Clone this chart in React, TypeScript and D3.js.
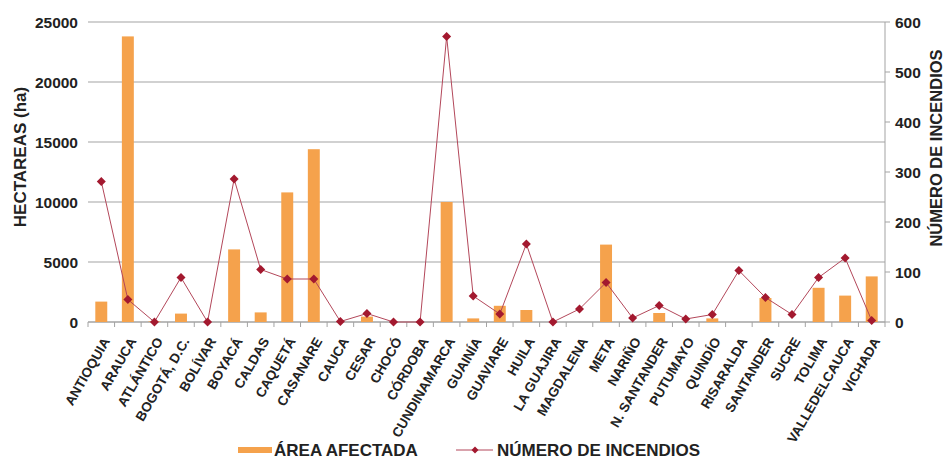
import { useMemo } from "react";
import * as d3 from "d3";

// ── Data ──────────────────────────────────────────────────────────────────────

const departments = [
  "ANTIOQUIA", "ARAUCA", "ATLÁNTICO", "BOGOTÁ, D.C.", "BOLÍVAR", "BOYACÁ",
  "CALDAS", "CAQUETÁ", "CASANARE", "CAUCA", "CESAR", "CHOCÓ", "CÓRDOBA",
  "CUNDINAMARCA", "GUAINÍA", "GUAVIARE", "HUILA", "LA GUAJIRA", "MAGDALENA",
  "META", "NARIÑO", "N. SANTANDER", "PUTUMAYO", "QUINDÍO", "RISARALDA",
  "SANTANDER", "SUCRE", "TOLIMA", "VALLEDELCAUCA", "VICHADA",
];

// Área afectada (ha) — left axis
const areaHa = [
  1700, 23800, 50, 700, 0, 6050,
  800, 10800, 14400, 0, 450, 0, 0,
  10000, 300, 1350, 1000, 0, 0,
  6450, 0, 750, 0, 300, 0,
  2000, 0, 2850, 2200, 3800,
];

// Número de incendios — right axis
const fires = [
  281, 45, 0, 89, 0, 286,
  105, 86, 86, 1, 17, 0, 0,
  571, 52, 16, 156, 0, 26,
  79, 8, 33, 6, 15, 103,
  49, 15, 89, 128, 3,
];

const leftTicks = [0, 5000, 10000, 15000, 20000, 25000];
const rightTicks = [0, 100, 200, 300, 400, 500, 600];

// ── Layout ────────────────────────────────────────────────────────────────────

const W = 947;
const H = 460;
const M = { top: 22, right: 62, bottom: 138, left: 88 };
const BAR = "#F5A24C";
const LINE = "#B3475A";
const MARK = "#A3192F";
const FONT = "'Liberation Sans', Arial, sans-serif";

function diamond(cx: number, cy: number, r: number) {
  return `M${cx},${cy - r}L${cx + r},${cy}L${cx},${cy + r}L${cx - r},${cy}Z`;
}

export default function App() {
  const plotW = W - M.left - M.right;
  const plotH = H - M.top - M.bottom;

  const x = useMemo(
    () => d3.scaleBand<string>().domain(departments).range([0, plotW]).paddingInner(0.55).paddingOuter(0.275),
    [plotW]
  );
  const step = x.step();
  const yL = useMemo(() => d3.scaleLinear().domain([0, 25000]).range([plotH, 0]), [plotH]);
  const yR = useMemo(() => d3.scaleLinear().domain([0, 600]).range([plotH, 0]), [plotH]);

  const cx = (d: string) => (x(d) ?? 0) + x.bandwidth() / 2;

  const linePath = d3
    .line<number>()
    .x((_, i) => cx(departments[i]))
    .y((v) => yR(v))(fires);

  return (
    <svg
      width={W}
      height={H}
      style={{ position: "absolute", left: 0, top: 0, background: "#fff" }}
      fontFamily={FONT}
    >
      <g transform={`translate(${M.left},${M.top})`}>
        {/* Gridlines */}
        {leftTicks.map((t) => (
          <line key={t} x1={0} x2={plotW} y1={yL(t)} y2={yL(t)} stroke="#a3a3a3" strokeWidth={1} />
        ))}

        {/* Left tick labels */}
        {leftTicks.map((t) => (
          <text
            key={t}
            x={-10}
            y={yL(t)}
            dy="0.36em"
            textAnchor="end"
            fontSize={15.5}
            fontWeight={700}
            fill="#222"
          >
            {t}
          </text>
        ))}

        {/* Right axis */}
        <line x1={plotW} x2={plotW} y1={0} y2={plotH} stroke="#a3a3a3" />
        {rightTicks.map((t) => (
          <g key={t} transform={`translate(${plotW},${yR(t)})`}>
            <line x1={0} x2={5} stroke="#a3a3a3" />
            <text x={10} dy="0.36em" fontSize={15.5} fontWeight={700} fill="#222">
              {t}
            </text>
          </g>
        ))}

        {/* Bottom axis ticks between categories */}
        <line x1={0} x2={plotW} y1={plotH} y2={plotH} stroke="#a3a3a3" />
        {d3.range(departments.length + 1).map((i) => (
          <line key={i} x1={i * step} x2={i * step} y1={plotH} y2={plotH + 5} stroke="#a3a3a3" />
        ))}

        {/* Bars */}
        {departments.map((d, i) => (
          <rect
            key={d}
            x={x(d)}
            y={yL(areaHa[i])}
            width={x.bandwidth()}
            height={plotH - yL(areaHa[i])}
            fill={BAR}
          />
        ))}

        {/* Line + markers */}
        <path d={linePath ?? ""} fill="none" stroke={LINE} strokeWidth={1} />
        {departments.map((d, i) => (
          <path key={d} d={diamond(cx(d), yR(fires[i]), 4.5)} fill={MARK} />
        ))}

        {/* Category labels */}
        {departments.map((d) => (
          <text
            key={d}
            transform={`translate(${cx(d) + 9},${plotH + 19}) rotate(-60)`}
            textAnchor="end"
            fontSize={13.5}
            fontWeight={700}
            fill="#222"
          >
            {d}
          </text>
        ))}
      </g>

      {/* Axis titles */}
      <text
        transform={`translate(26,157) rotate(-90)`}
        textAnchor="middle"
        fontSize={17}
        fontWeight={700}
        fill="#222"
      >
        HECTAREAS (ha)
      </text>
      <text
        transform={`translate(942,148) rotate(-90)`}
        textAnchor="middle"
        fontSize={16.5}
        fontWeight={700}
        fill="#222"
      >
        NÚMERO DE INCENDIOS
      </text>

      {/* Legend */}
      <rect x={238} y={447} width={34} height={6} fill={BAR} />
      <text x={274} y={456} fontSize={17} fontWeight={700} fill="#222">
        ÁREA AFECTADA
      </text>
      <line x1={456} x2={493} y1={450} y2={450} stroke={LINE} strokeWidth={1} />
      <path d={diamond(475, 450, 3.5)} fill={MARK} />
      <text x={497} y={456} fontSize={17} fontWeight={700} fill="#222">
        NÚMERO DE INCENDIOS
      </text>
    </svg>
  );
}
